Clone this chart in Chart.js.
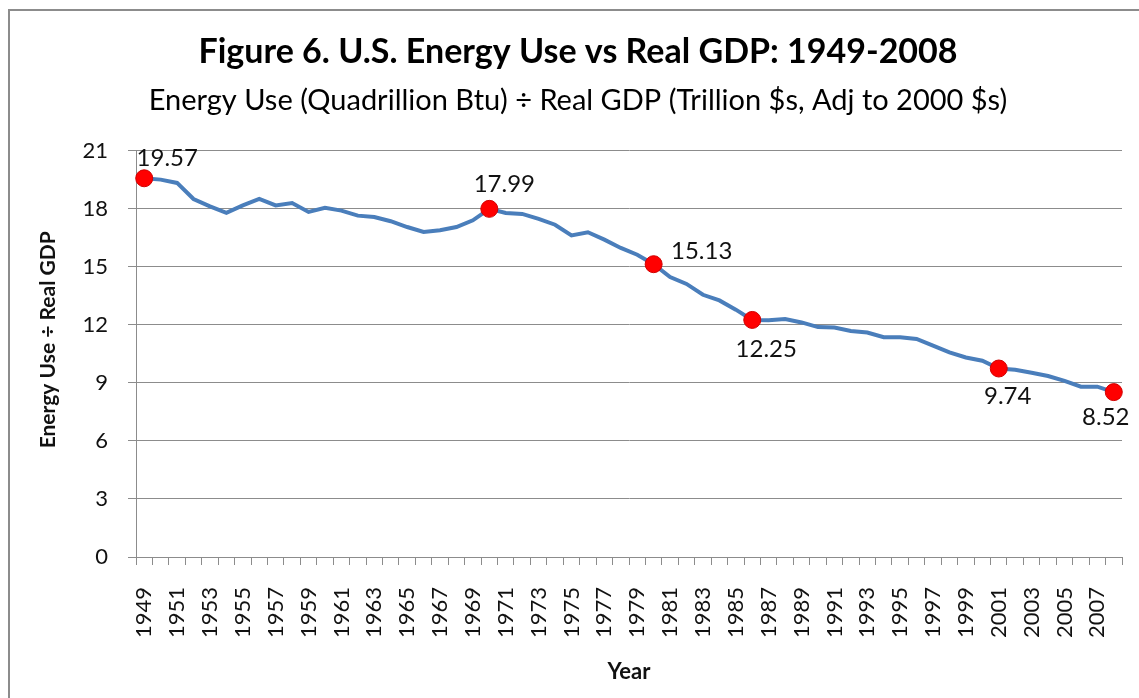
<!DOCTYPE html>
<html>
<head>
<meta charset="utf-8">
<script src="https://cdn.jsdelivr.net/npm/chart.js@4.4.1/dist/chart.umd.min.js"></script>
<style>
  html, body { margin: 0; padding: 0; background: #fff; }
  #wrap { position: relative; width: 1139px; height: 698px; overflow: hidden; }
  #frame { position: absolute; left: 8px; top: 9px; width: 1200px; height: 800px; border: 2px solid #8c8c8c; }
  #chart { position: absolute; left: 0; top: 0; }
</style>
</head>
<body>
<div id="wrap">
  <div id="frame"></div>
  <canvas id="chart" width="1139" height="698"></canvas>
</div>
<script>
// energy use / real GDP, 1949-2008

const years = [
  1949, 1950, 1951, 1952, 1953, 1954, 1955, 1956, 1957, 1958,
  1959, 1960, 1961, 1962, 1963, 1964, 1965, 1966, 1967, 1968,
  1969, 1970, 1971, 1972, 1973, 1974, 1975, 1976, 1977, 1978,
  1979, 1980, 1981, 1982, 1983, 1984, 1985, 1986, 1987, 1988,
  1989, 1990, 1991, 1992, 1993, 1994, 1995, 1996, 1997, 1998,
  1999, 2000, 2001, 2002, 2003, 2004, 2005, 2006, 2007, 2008
];

const ratio = [
  19.57, 19.50, 19.33, 18.50, 18.12, 17.78, 18.17, 18.50, 18.17, 18.29,
  17.83, 18.04, 17.90, 17.64, 17.57, 17.35, 17.05, 16.80, 16.88, 17.05,
  17.40, 17.99, 17.78, 17.73, 17.47, 17.17, 16.62, 16.78, 16.40, 15.97,
  15.62, 15.13, 14.47, 14.11, 13.55, 13.26, 12.78, 12.25, 12.24, 12.30,
  12.12, 11.88, 11.86, 11.68, 11.60, 11.36, 11.35, 11.27, 10.92, 10.57,
  10.31, 10.14, 9.74, 9.68, 9.52, 9.35, 9.10, 8.80, 8.80, 8.52
];

// years that get a red marker and a value label
const markedYears = [1949, 1970, 1980, 1986, 2001, 2008];

const yTicks = [0, 3, 6, 9, 12, 15, 18, 21];

const yTitle = 'Energy Use \u00f7 Real GDP';

// where each value label sits relative to its marker (px)
const labelOffsets = [[23, -20], [15, -25], [48, -13], [14, 29], [9, 28], [-8, 25]];

const FONT = 'Lato, "Open Sans", sans-serif';
const GREY = '#8c8c8c';

const isMarked = (i) => markedYears.includes(years[i]);

const valueLabels = {
  id: 'valueLabels',
  afterDatasetsDraw(chart) {
    const meta = chart.getDatasetMeta(0);
    const ctx = chart.ctx;
    ctx.save();
    ctx.font = '24px ' + FONT;
    ctx.fillStyle = '#111';
    ctx.textAlign = 'center';
    ctx.textBaseline = 'middle';
    markedYears.forEach((yr, k) => {
      const i = years.indexOf(yr);
      const pt = meta.data[i];
      const off = labelOffsets[k];
      ctx.fillText(ratio[i].toFixed(2), pt.x + off[0], pt.y + off[1]);
    });
    ctx.restore();
  }
};

// y axis title, drawn by hand so it can sit a bit above the plot centre like the original
const yAxisTitle = {
  id: 'yAxisTitle',
  afterDraw(chart) {
    const ctx = chart.ctx;
    const area = chart.chartArea;
    ctx.save();
    ctx.translate(48, (area.top + area.bottom) / 2 - 14);
    ctx.rotate(-Math.PI / 2);
    ctx.font = 'bold 21px ' + FONT;
    ctx.fillStyle = '#111';
    ctx.textAlign = 'center';
    ctx.textBaseline = 'middle';
    ctx.fillText(yTitle, 0, 0);
    ctx.restore();
  }
};

const ctx = document.getElementById('chart');

new Chart(ctx, {
  type: 'line',
  data: {
    labels: years.map(String),
    datasets: [{
      data: ratio,
      borderColor: '#4A7EBB',
      borderWidth: 4,
      tension: 0,
      pointRadius: (c) => isMarked(c.dataIndex) ? 8.5 : 0,
      pointHoverRadius: (c) => isMarked(c.dataIndex) ? 8.5 : 0,
      pointBackgroundColor: '#ff0000',
      pointBorderColor: '#d00000',
      pointBorderWidth: 1
    }]
  },
  options: {
    responsive: false,
    animation: false,
    layout: { padding: { left: 34, right: 17, top: 0, bottom: 0 } },
    plugins: {
      legend: { display: false },
      tooltip: { enabled: false },
      title: {
        display: true,
        text: 'Figure 6. U.S. Energy Use vs Real GDP: 1949-2008',
        color: '#000',
        font: { family: FONT, size: 34, weight: 'bold' },
        padding: { top: 32, bottom: 0 }
      },
      subtitle: {
        display: true,
        text: 'Energy Use (Quadrillion Btu) \u00f7 Real GDP (Trillion $s, Adj to 2000 $s)',
        color: '#000',
        font: { family: FONT, size: 29 },
        padding: { top: 10, bottom: 33 }
      }
    },
    scales: {
      x: {
        type: 'category',
        offset: true,
        grid: { display: true, drawOnChartArea: false, offset: true, tickLength: 8, color: GREY },
        border: { display: true, color: GREY },
        ticks: {
          autoSkip: false,
          minRotation: 90,
          maxRotation: 90,
          padding: 22,
          color: '#111',
          font: { family: FONT, size: 22 },
          callback: (v, i) => (years[i] % 2 === 1 ? String(years[i]) : '')
        },
        title: {
          display: true,
          text: 'Year',
          color: '#111',
          font: { family: FONT, size: 22, weight: 'bold' },
          padding: { top: 0, bottom: 13 }
        },
        afterFit: (scale) => {
          scale.height = 141;
          scale.paddingLeft = 0;
          scale.paddingRight = 0;
        }
      },
      y: {
        min: 0,
        max: 21,
        afterBuildTicks: (scale) => { scale.ticks = yTicks.map(v => ({ value: v })); },
        grid: { color: GREY, tickLength: 8 },
        border: { display: true, color: GREY },
        ticks: {
          padding: 20,
          color: '#111',
          font: { family: FONT, size: 22 }
        },
        afterFit: (scale) => { scale.width = 102; }
      }
    }
  },
  plugins: [valueLabels, yAxisTitle]
});
</script>
</body>
</html>
